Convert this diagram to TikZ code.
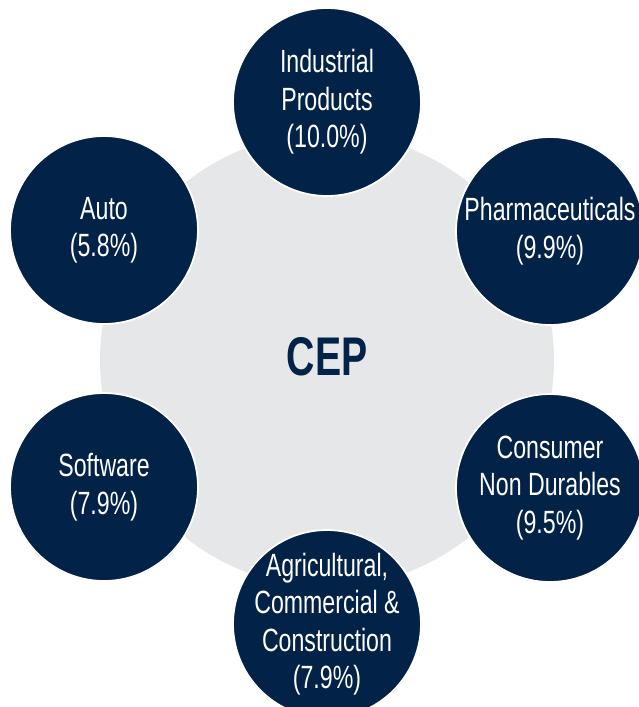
\documentclass[tikz,border=0pt]{standalone}
\usepackage{fontspec}
\setmainfont[FakeStretch=0.72]{Liberation Sans}
\usepackage{tikz}
\definecolor{cepnavy}{RGB}{2,35,71}
\definecolor{cepgrey}{RGB}{230,231,232}
\tikzset{
  sector/.style={circle, fill=cepnavy, draw=white, line width=1pt, minimum size=3.76cm, inner sep=0pt},
  sectortext/.style={text=white, align=center, inner sep=0pt, font=\fontsize{18.3}{21.3}\selectfont},
}

\begin{document}
\begin{tikzpicture}[x=0.02cm, y=-0.02cm]
                        \useasboundingbox (0,0) rectangle (639,707);
                        \node[circle, fill=cepgrey, minimum size=9.08cm, inner sep=0pt] (hub) at (327,360) {};
                        \node[text=cepnavy, font=\fontsize{31}{36}\selectfont\bfseries] (cep) at (327,357) {CEP};
                        \node[sector] (ind) at (327,102) {};
                        \node[sector] (pha) at (550,231) {};
                        \node[sector] (con) at (550,488) {};
                        \node[sector] (agr) at (327,624) {};
                        \node[sector] (sof) at (104,487) {};
                        \node[sector] (aut) at (104,230) {};
                        \node[sectortext] (ind-t) at (ind) {Industrial\\Products\\(10.0\%)};
                        \node[sectortext] (pha-t) at (pha) {Pharmaceuticals\\(9.9\%)};
                        \node[sectortext] (con-t) at (con) {Consumer\\Non Durables\\(9.5\%)};
                        \node[sectortext] (agr-t) at (agr) {Agricultural,\\Commercial \&\\Construction\\(7.9\%)};
                        \node[sectortext] (sof-t) at (sof) {Software\\(7.9\%)};
                        \node[sectortext] (aut-t) at (aut) {Auto\\(5.8\%)};
                  \end{tikzpicture}
\end{document}
